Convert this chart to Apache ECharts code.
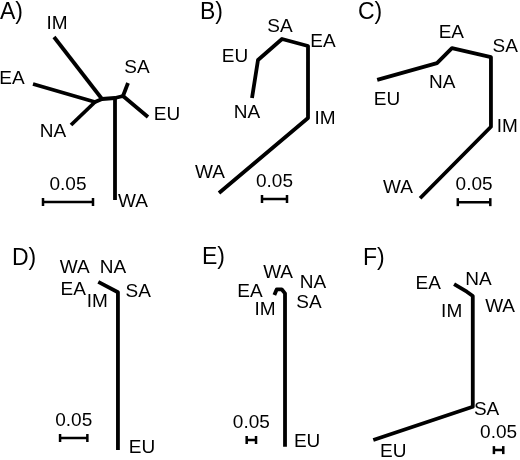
<!DOCTYPE html>
<html><head><meta charset="utf-8">
<script src="https://cdn.jsdelivr.net/npm/echarts@6/dist/echarts.min.js"></script>
<style>html,body{margin:0;padding:0;background:#fff}#c{width:520px;height:460px}</style>
</head><body><div id="c"></div>
<script>
// ---- data (tree coordinates in substitutions/site units, per panel) ----
const panelLetters = ['A)', 'B)', 'C)', 'D)', 'E)', 'F)'];
const scaleLength = 0.05;
const scaleText = '0.05';

// Panel A: unrooted tree, branch paths
const treeA = [
  [[0.033, 0.084], [0.095, 0.102], [0.102, 0.099], [0.115, 0.098], [0.123, 0.096], [0.148, 0.117]],
  [[0.071, 0.125], [0.095, 0.102]],
  [[0.054, 0.037], [0.102, 0.099]],
  [[0.115, 0.098], [0.115, 0.200]],
  [[0.123, 0.096], [0.128, 0.083]]
];
const tipsA = [['IM', 0.057, 0.024], ['EA', 0.012, 0.079], ['NA', 0.053, 0.132], ['SA', 0.137, 0.068], ['EU', 0.167, 0.115], ['WA', 0.133, 0.202]];
const barA = [0.043, 0.202];

// Panel B
const treeB = [
  [[0.158, 0.196], [0.170, 0.120], [0.218, 0.078], [0.270, 0.092], [0.270, 0.236], [0.092, 0.386]]
];
const tipsB = [['SA', 0.214, 0.054], ['EA', 0.300, 0.084], ['EU', 0.124, 0.114], ['NA', 0.148, 0.226], ['IM', 0.304, 0.238], ['WA', 0.074, 0.346]];
const barB = [0.178, 0.398];

// Panel C
const treeC = [
  [[0.048, 0.123], [0.140, 0.097], [0.163, 0.074], [0.223, 0.088], [0.223, 0.195], [0.114, 0.305]]
];
const tipsC = [['EA', 0.162, 0.051], ['SA', 0.245, 0.072], ['NA', 0.148, 0.128], ['EU', 0.063, 0.154], ['IM', 0.248, 0.195], ['WA', 0.080, 0.289]];
const barC = [0.172, 0.311];

// Panel D
const treeD = [
  [[0.180, 0.095], [0.216, 0.114], [0.216, 0.403]]
];
const tipsD = [['WA', 0.137, 0.070], ['NA', 0.207, 0.070], ['EA', 0.134, 0.110], ['IM', 0.178, 0.132], ['SA', 0.253, 0.114], ['EU', 0.260, 0.399]];
const barD = [0.110, 0.381];

// Panel E
const treeE = [
  [[0.542, 0.348], [0.555, 0.317], [0.581, 0.317], [0.599, 0.339], [0.599, 1.159]]
];
const tipsE = [['EA', 0.412, 0.332], ['WA', 0.562, 0.230], ['NA', 0.749, 0.283], ['SA', 0.727, 0.390], ['IM', 0.492, 0.428], ['EU', 0.717, 1.134]];
const barE = [0.394, 1.123];

// Panel F
const treeF = [
  [[0.578, 0.290], [0.646, 0.330], [0.678, 0.353], [0.678, 0.945], [0.146, 1.123]]
];
const tipsF = [['EA', 0.440, 0.285], ['NA', 0.708, 0.267], ['WA', 0.824, 0.410], ['IM', 0.565, 0.437], ['SA', 0.752, 0.963], ['EU', 0.253, 1.186]];
const barF = [0.791, 1.177];

// ---- layout (pixels per unit = drawing scale of each panel) ----
const layout = [
  { left: 0,   top: 0,   width: 173, height: 230, ppu: 1000, letter: [0, 1] },
  { left: 173, top: 0,   width: 173, height: 230, ppu: 500,  letter: [200, 1] },
  { left: 346, top: 0,   width: 174, height: 230, ppu: 650,  letter: [358, 1] },
  { left: 0,   top: 230, width: 173, height: 230, ppu: 546,  letter: [12, 247] },
  { left: 173, top: 230, width: 173, height: 230, ppu: 187,  letter: [202, 246] },
  { left: 346, top: 230, width: 174, height: 230, ppu: 187,  letter: [363, 247] }
];
const trees = [treeA, treeB, treeC, treeD, treeE, treeF];
const tips = [tipsA, tipsB, tipsC, tipsD, tipsE, tipsF];
const bars = [barA, barB, barC, barD, barE, barF];

const FONT = "'Liberation Sans', Arial, Helvetica, sans-serif";
const grid = [], xAxis = [], yAxis = [], series = [], title = [];
const labelStyle = { show: true, position: 'inside', formatter: '{b}', fontFamily: FONT, fontSize: 19,
  color: '#000', opacity: 1 };
layout.forEach((L, i) => {
  grid.push({ left: L.left, top: L.top, width: L.width, height: L.height });
  xAxis.push({ gridIndex: i, type: 'value', min: 0, max: L.width / L.ppu, show: false });
  yAxis.push({ gridIndex: i, type: 'value', min: 0, max: L.height / L.ppu, inverse: true, show: false });
  title.push({ text: panelLetters[i], left: L.letter[0], top: L.letter[1], padding: 0,
    textStyle: { fontFamily: FONT, fontSize: 23, fontWeight: 'normal', color: '#000' } });
  trees[i].forEach(path => {
    series.push({ type: 'line', xAxisIndex: i, yAxisIndex: i, data: path, symbol: 'none', silent: true,
      animation: false, lineStyle: { color: '#000', width: 3.8, join: 'round', cap: 'butt' } });
  });
  series.push({ type: 'scatter', xAxisIndex: i, yAxisIndex: i, silent: true, animation: false,
    symbolSize: 0, itemStyle: { color: '#000' },
    data: tips[i].map(t => ({ name: t[0], value: [t[1], t[2]] })),
    label: labelStyle });
  const b = bars[i];
  const bar = [[b[0], b[1]], [b[0] + scaleLength, b[1]]];
  series.push({ type: 'line', xAxisIndex: i, yAxisIndex: i, data: bar, silent: true, animation: false,
    symbol: 'rect', symbolSize: [2.5, 8], itemStyle: { color: '#000' },
    lineStyle: { color: '#000', width: 2.5 } });
  series.push({ type: 'scatter', xAxisIndex: i, yAxisIndex: i, silent: true, animation: false,
    symbolSize: 0, itemStyle: { color: '#000' },
    data: [{ name: scaleText, value: [b[0] + scaleLength / 2, b[1]] }],
    label: Object.assign({}, labelStyle, { offset: [0, -17] }) });
});

const chart = echarts.init(document.getElementById('c'), null, { renderer: 'canvas' });
chart.setOption({ backgroundColor: '#fff', animation: false, title, grid, xAxis, yAxis, series });
</script></body></html>
